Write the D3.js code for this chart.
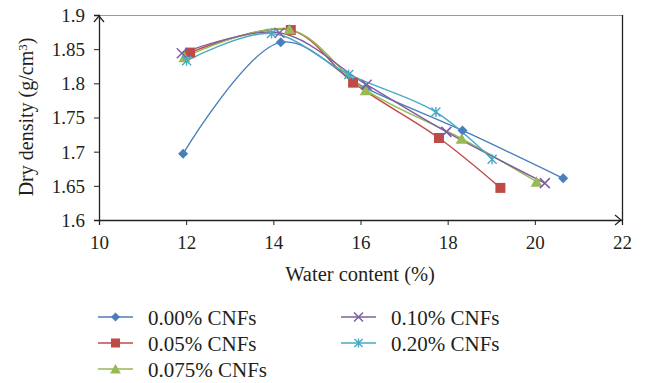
<!DOCTYPE html>
<html>
<head>
<meta charset="utf-8">
<script src="https://cdn.jsdelivr.net/npm/d3@7"></script>
<style>
  html, body { margin: 0; padding: 0; background: #fff; }
  svg { display: block; font-family: "Liberation Serif", "DejaVu Serif", serif; }
</style>
</head>
<body>
<svg id="chart" width="647" height="383"></svg>
<script>
// Compaction curves: dry density against water content for each CNF dosage
const seriesNames = ["0.00% CNFs", "0.05% CNFs", "0.075% CNFs", "0.10% CNFs", "0.20% CNFs"];
const seriesColors = ["#4a7ebb", "#be4b48", "#98b954", "#7d5fa0", "#46aac5"];
const seriesSymbols = ["diamond", "square", "triangle", "cross", "asterisk"];

const water000 = [11.93, 14.17, 16.12, 18.34, 20.65];
const density000 = [1.697, 1.860, 1.793, 1.731, 1.661];
const water005 = [12.09, 14.40, 15.83, 17.80, 19.21];
const density005 = [1.845, 1.878, 1.801, 1.720, 1.647];
const water0075 = [11.96, 14.37, 16.12, 18.32, 20.04];
const density0075 = [1.838, 1.879, 1.790, 1.719, 1.656];
const water010 = [11.90, 14.14, 16.14, 17.97, 20.23];
const density010 = [1.844, 1.874, 1.798, 1.729, 1.654];
const water020 = [12.01, 13.96, 15.73, 17.73, 19.02];
const density020 = [1.833, 1.873, 1.813, 1.758, 1.689];

const xTicks = [10, 12, 14, 16, 18, 20, 22];
const yTicks = [1.6, 1.65, 1.7, 1.75, 1.8, 1.85, 1.9];

const waters = [water000, water005, water0075, water010, water020];
const densities = [density000, density005, density0075, density010, density020];
const series = seriesNames.map((name, i) => ({
  name, color: seriesColors[i], symbol: seriesSymbols[i],
  points: waters[i].map((w, j) => ({ x: w, y: densities[i][j] }))
}));

const svg = d3.select("#chart");
const plotLeft = 99, plotRight = 622, plotTop = 15, plotBottom = 220;
const textColor = "#231f20";

const x = d3.scaleLinear().domain([10, 22]).range([plotLeft, plotRight]);
const y = d3.scaleLinear().domain([1.6, 1.9]).range([plotBottom, plotTop]);

// Plot frame: grey top edge, dark right edge
svg.append("line").attr("x1", plotLeft).attr("x2", plotRight).attr("y1", plotTop + 0.5).attr("y2", plotTop + 0.5)
  .attr("stroke", "#9a9a9a").attr("stroke-width", 1);
svg.append("line").attr("x1", plotRight + 0.5).attr("x2", plotRight + 0.5).attr("y1", plotTop).attr("y2", plotBottom)
  .attr("stroke", "#222").attr("stroke-width", 1.3);

// Axes
const xAxis = svg.append("g").attr("transform", `translate(0,${plotBottom})`)
  .call(d3.axisBottom(x).tickValues(xTicks).tickSize(5).tickFormat(d3.format("d")));
const yAxis = svg.append("g").attr("transform", `translate(${plotLeft},0)`)
  .call(d3.axisLeft(y).tickValues(yTicks).tickSize(5).tickFormat(d => String(+d.toFixed(2))));
[xAxis, yAxis].forEach(g => {
  g.select(".domain").attr("stroke", "#222").attr("stroke-width", 1.3);
  g.selectAll(".tick line").attr("stroke", "#222");
  g.selectAll(".tick text").attr("fill", textColor)
    .style("font-family", '"Liberation Serif", serif').style("font-size", "19px");
});
xAxis.selectAll(".tick text").attr("y", 29).attr("dy", 0);
yAxis.selectAll(".tick text").attr("x", -14).attr("dy", "0.34em");

// Arrow heads at the axis ends
svg.append("path").attr("d", `M${plotLeft - 5},${plotTop + 7}L${plotLeft},${plotTop + 1}L${plotLeft + 5},${plotTop + 7}`)
  .attr("fill", "none").attr("stroke", "#222").attr("stroke-width", 1.2);
svg.append("path").attr("d", `M${plotRight - 7},${plotBottom - 5}L${plotRight - 1},${plotBottom}L${plotRight - 7},${plotBottom + 5}`)
  .attr("fill", "none").attr("stroke", "#222").attr("stroke-width", 1.2);

// Axis titles
svg.append("text").attr("x", 360).attr("y", 281).attr("text-anchor", "middle")
  .attr("fill", textColor).style("font-size", "20.5px").text("Water content (%)");
const yTitle = svg.append("text").attr("transform", "translate(33,117) rotate(-90)")
  .attr("text-anchor", "middle").attr("fill", textColor).style("font-size", "20px");
yTitle.append("tspan").text("Dry density (g/cm");
yTitle.append("tspan").attr("dy", "-0.45em").style("font-size", "13px").text("3");
yTitle.append("tspan").attr("dy", "0.3em").text(")");

// Marker drawing
function drawMarker(g, type, color, cx, cy, scale = 1) {
  const s = scale;
  if (type === "diamond") {
    g.append("path").attr("d", `M${cx},${cy - 5 * s}L${cx + 5 * s},${cy}L${cx},${cy + 5 * s}L${cx - 5 * s},${cy}Z`)
      .attr("fill", color);
  } else if (type === "square") {
    g.append("rect").attr("x", cx - 5 * s).attr("y", cy - 5 * s).attr("width", 10 * s).attr("height", 10 * s)
      .attr("fill", color);
  } else if (type === "triangle") {
    g.append("path").attr("d", `M${cx},${cy - 5.5 * s}L${cx + 6 * s},${cy + 5 * s}L${cx - 6 * s},${cy + 5 * s}Z`)
      .attr("fill", color);
  } else if (type === "cross") {
    g.append("path").attr("d", `M${cx - 5 * s},${cy - 5 * s}L${cx + 5 * s},${cy + 5 * s}M${cx - 5 * s},${cy + 5 * s}L${cx + 5 * s},${cy - 5 * s}`)
      .attr("stroke", color).attr("stroke-width", 1.5).attr("fill", "none");
  } else if (type === "asterisk") {
    g.append("path").attr("d", `M${cx - 4.5 * s},${cy - 4.5 * s}L${cx + 4.5 * s},${cy + 4.5 * s}M${cx - 4.5 * s},${cy + 4.5 * s}L${cx + 4.5 * s},${cy - 4.5 * s}M${cx},${cy - 5 * s}L${cx},${cy + 5 * s}`)
      .attr("stroke", color).attr("stroke-width", 1.4).attr("fill", "none");
  }
}

// Smoothed series lines and markers
const line = d3.line().x(d => x(d.x)).y(d => y(d.y)).curve(d3.curveCatmullRom.alpha(0.5));
const plot = svg.append("g");
series.forEach(s => {
  plot.append("path").datum(s.points).attr("d", line)
    .attr("fill", "none").attr("stroke", s.color).attr("stroke-width", 1.4);
});
series.forEach(s => {
  const g = plot.append("g");
  s.points.forEach(p => drawMarker(g, s.symbol, s.color, x(p.x), y(p.y)));
});

// Legend
const legendPos = [[98, 317], [98, 343], [98, 369], [341, 317], [341, 343]];
series.forEach((s, i) => {
  const [lx, ly] = legendPos[i];
  const g = svg.append("g");
  g.append("line").attr("x1", lx).attr("x2", lx + 35).attr("y1", ly).attr("y2", ly)
    .attr("stroke", s.color).attr("stroke-width", 2).attr("opacity", 0.75);
  drawMarker(g, s.symbol, s.color, lx + 17.5, ly, 0.9);
  g.append("text").attr("x", lx + 50).attr("y", ly + 7.5).attr("fill", textColor)
    .style("font-size", "21px").text(s.name);
});
</script>
</body>
</html>
